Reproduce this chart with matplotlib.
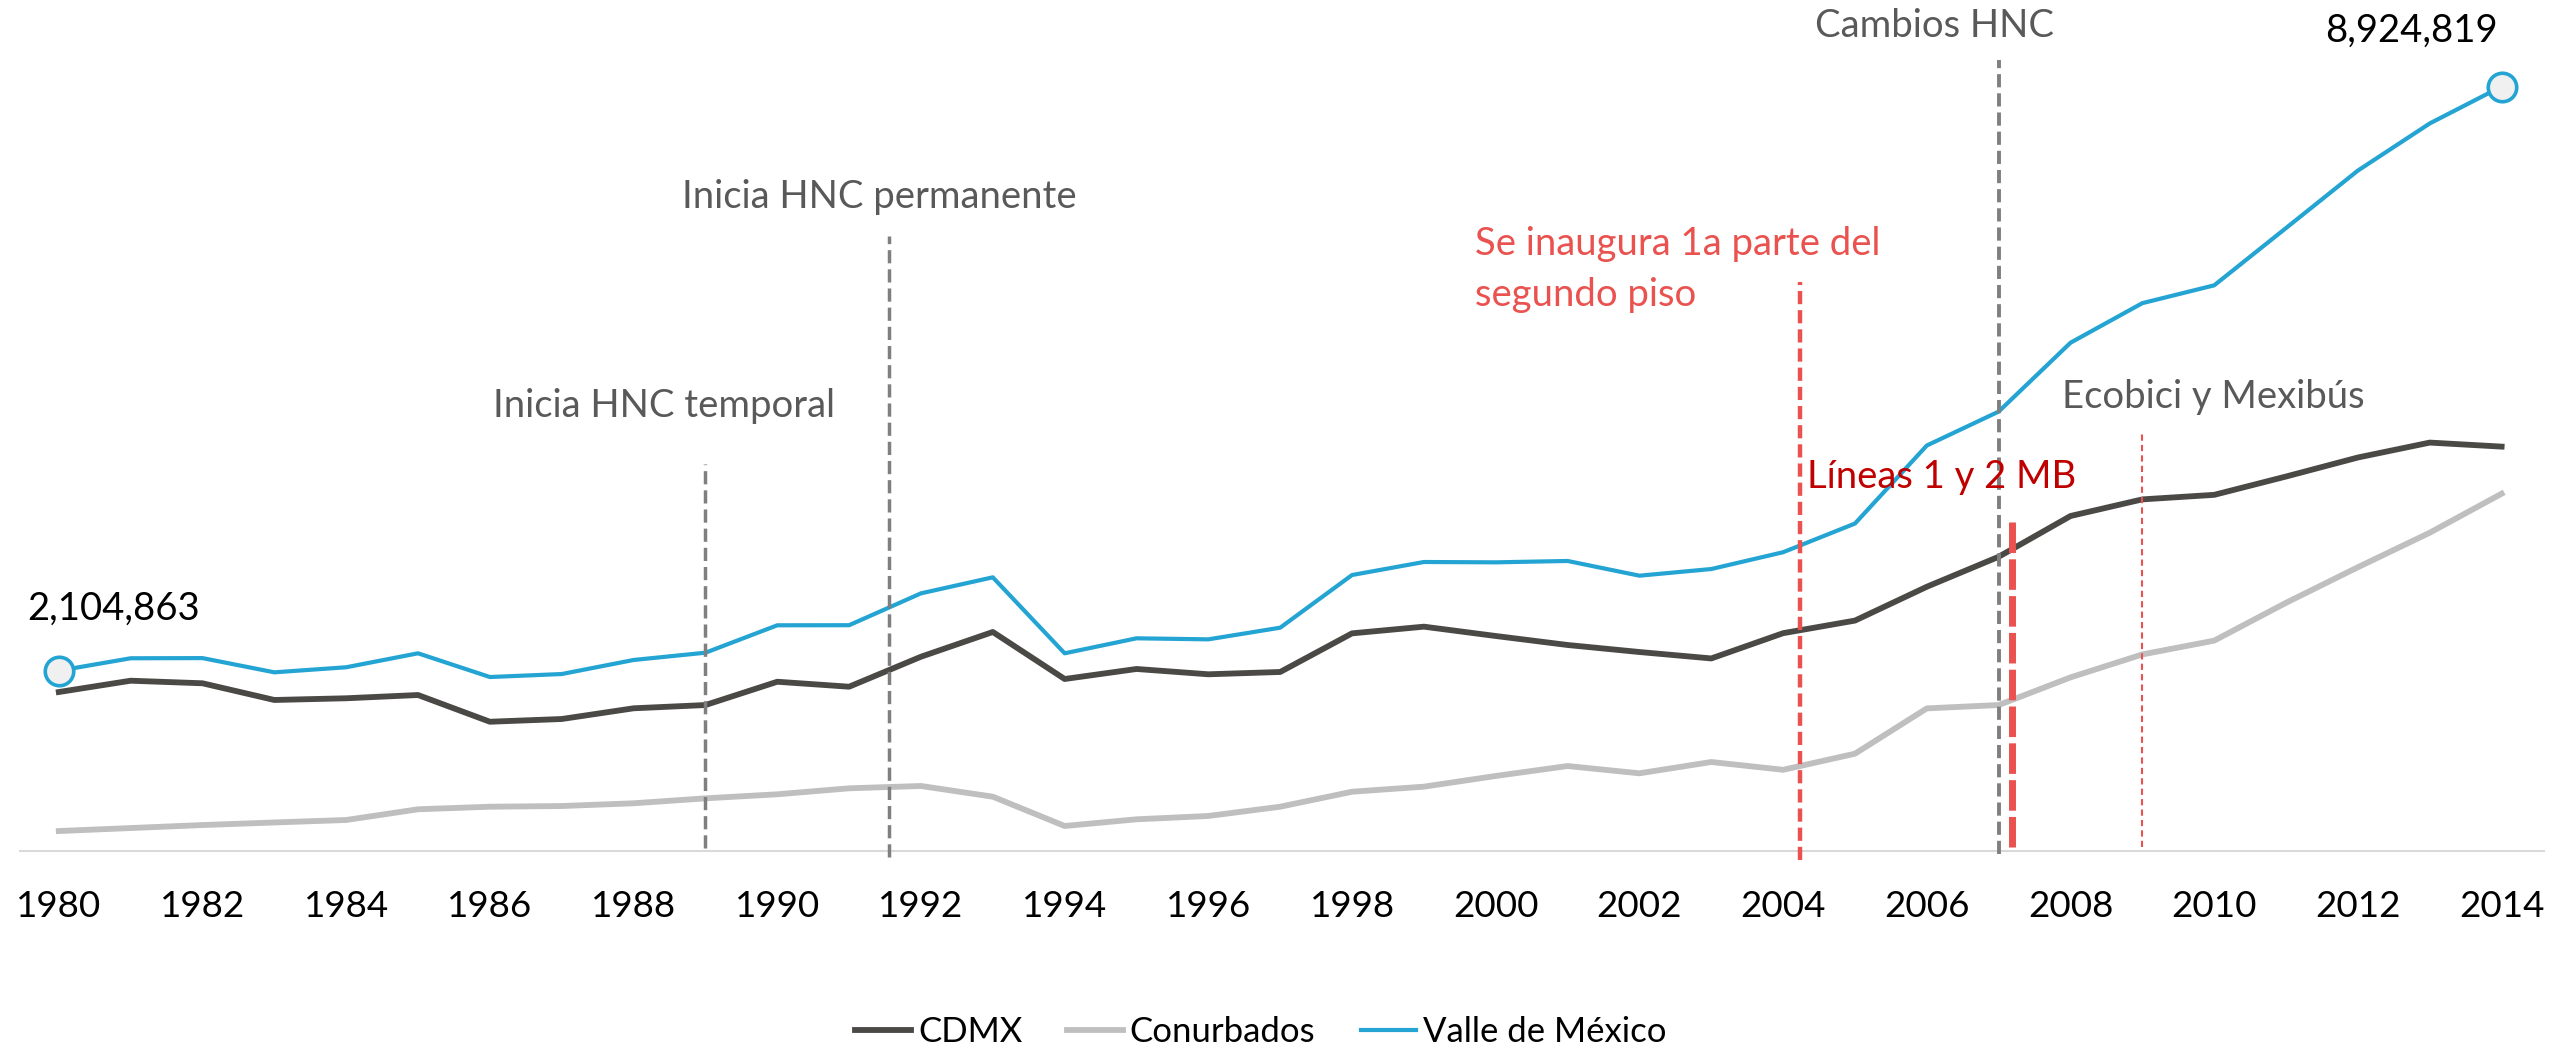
import matplotlib
matplotlib.use("Agg")
import matplotlib.pyplot as plt

plt.rcParams['font.family'] = ['Lato', 'DejaVu Sans']
plt.rcParams['lines.scale_dashes'] = False

# viajes / poblacion por año
years = list(range(1980, 2015))

cdmx = [1856000, 1988000, 1958000, 1763000, 1783000, 1821000, 1509000,
        1541000, 1666000, 1704000, 1976000, 1918000, 2268000, 2557000,
        2008000, 2125000, 2063000, 2090000, 2541000, 2619000, 2510000,
        2405000, 2323000, 2248000, 2543000, 2690000, 3085000, 3435000,
        3911000, 4105000, 4158000, 4372000, 4594000, 4768000, 4721000]

conurbados = [233000, 268000, 303000, 333000, 362000, 487000, 517000,
              525000, 557000, 615000, 662000, 732000, 759000, 634000,
              292000, 370000, 409000, 517000, 692000, 751000, 876000,
              992000, 907000, 1039000, 948000, 1136000, 1665000, 1704000,
              2027000, 2295000, 2456000, 2898000, 3313000, 3716000, 4171000]

valle = [2104863, 2250000, 2252000, 2086000, 2145000, 2308000, 2031000,
         2066000, 2230000, 2315000, 2635000, 2636000, 3008000, 3195000,
         2308000, 2483000, 2471000, 2607000, 3222000, 3374000, 3370000,
         3386000, 3214000, 3292000, 3488000, 3823000, 4734000, 5130000,
         5934000, 6396000, 6604000, 7273000, 7944000, 8494000, 8924819]

tick_years = list(range(1980, 2015, 2))

# hitos de politica de movilidad
event_years = [1989.0, 1991.55, 2004.23, 2007.0, 2007.18, 2009.0]

c_cdmx = '#4B4945'
c_conur = '#BFBFBF'
c_valle = '#24A4D3'
c_gray = '#7F7F7F'
c_red = '#E9524F'
c_darkred = '#C00000'
c_text = '#595959'

fs = 27.5

fig = plt.figure(figsize=(25.52, 10.5), dpi=100)
ax = fig.add_axes([20 / 2552, 199 / 1050, 2524 / 2552, 851 / 1050])

ax.plot(years, cdmx, color=c_cdmx, lw=4.2, label='CDMX', zorder=2)
ax.plot(years, conurbados, color=c_conur, lw=4.2, label='Conurbados', zorder=2)
ax.plot(years, valle, color=c_valle, lw=3.0, label='Valle de México', zorder=2)

# puntos inicial y final con su valor
ax.plot([years[0], years[-1]], [valle[0], valle[-1]], 'o', ms=20.5,
        mfc='#F0F0F0', mec=c_valle, mew=2.6, zorder=6, clip_on=False)
ax.annotate(f'{valle[0]:,}', xy=(years[0], valle[0]), xytext=(55, 51),
            textcoords='offset pixels', ha='center', va='baseline',
            fontsize=fs, color='black')
ax.annotate(f'{valle[-1]:,}', xy=(years[-1], valle[-1]), xytext=(-90, 45),
            textcoords='offset pixels', ha='center', va='baseline',
            fontsize=fs, color='black')

# lineas verticales de eventos
ax.axvline(event_years[0], 0.003, 0.455, color=c_gray, lw=2.5,
           dashes=(9.5, 4.3), zorder=4, clip_on=False)
ax.axvline(event_years[1], -0.007, 0.723, color=c_gray, lw=2.5,
           dashes=(9.5, 4.3), zorder=4, clip_on=False)
ax.axvline(event_years[2], -0.011, 0.669, color=c_red, lw=3.2,
           dashes=(9.5, 4.3), zorder=4, clip_on=False)
ax.axvline(event_years[3], -0.004, 0.93, color=c_gray, lw=2.8,
           dashes=(9.5, 4.3), zorder=4, clip_on=False)
ax.axvline(event_years[4], 0.005, 0.39, color=c_red, lw=5.0,
           dashes=(22, 4.5), zorder=4, clip_on=False)
ax.axvline(event_years[5], 0.005, 0.491, color=c_red, lw=1.5,
           dashes=(4.5, 3), zorder=4, clip_on=False)

tr = ax.get_xaxis_transform()
ax.text(1988.42, 0.510, 'Inicia HNC temporal', transform=tr, ha='center',
        va='baseline', fontsize=fs, color=c_text, zorder=7)
ax.text(1991.42, 0.755, 'Inicia HNC permanente', transform=tr, ha='center',
        va='baseline', fontsize=fs, color=c_text, zorder=7)
ax.text(1999.71, 0.700, 'Se inaugura 1a parte del', transform=tr, ha='left',
        va='baseline', fontsize=fs, color=c_red, zorder=7)
ax.text(1999.71, 0.640, 'segundo piso', transform=tr, ha='left',
        va='baseline', fontsize=fs, color=c_red, zorder=7)
ax.text(2006.10, 0.957, 'Cambios HNC', transform=tr, ha='center',
        va='baseline', fontsize=fs, color=c_text, zorder=7)
ax.text(2009.99, 0.520, 'Ecobici y Mexibús', transform=tr, ha='center',
        va='baseline', fontsize=fs, color=c_text, zorder=7)
ax.text(2004.33, 0.426, 'Líneas 1 y 2 MB', transform=tr, ha='left',
        va='baseline', fontsize=fs, color=c_darkred, zorder=7)

ax.set_xlim(1979.46, 2014.59)
ax.set_ylim(0, 9.935e6)
ax.set_xticks(tick_years)
ax.set_xticklabels([str(y) for y in tick_years])
ax.set_yticks([])
ax.tick_params(axis='x', length=0, pad=28, labelsize=26.5, labelcolor='black')
for side in ['top', 'left', 'right']:
    ax.spines[side].set_visible(False)
ax.spines['bottom'].set_color('#D9D9D9')
ax.spines['bottom'].set_linewidth(1.5)
ax.set_facecolor('none')

fig.legend(loc='center', bbox_to_anchor=(1261 / 2552, 1 - 1032 / 1050),
           ncol=3, frameon=False, fontsize=25, handlelength=1.6,
           handletextpad=0.2, columnspacing=1.3)

fig.savefig('out.png', dpi=100, facecolor='white')
